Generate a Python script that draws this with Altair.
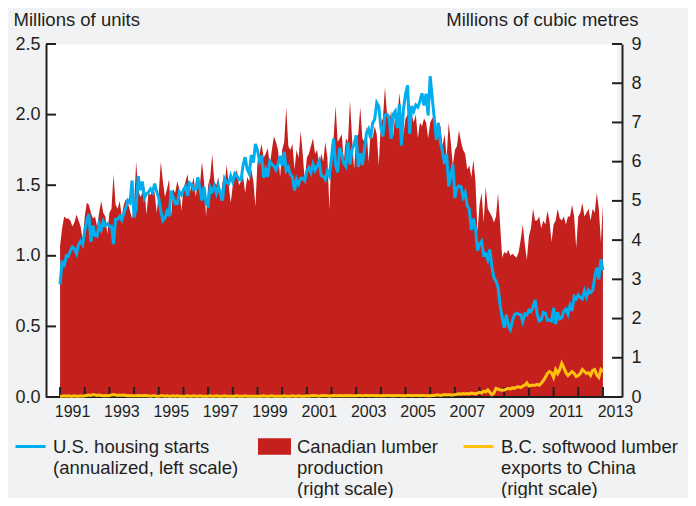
import altair as alt
import pandas as pd

# ---------------- data (monthly, Jan 1991 .. Jan 2013) ----------------
years = list(range(1991, 2014))
left_ticks = [0, 0.5, 1.0, 1.5, 2.0, 2.5]
right_ticks = list(range(0, 10))

# U.S. housing starts, annualized, millions of units (left scale)
housing_starts = [
    0.798, 0.965, 0.921, 1.001, 0.996, 1.036, 1.063, 1.049, 1.015, 1.079, 1.103, 1.079,
    1.176, 1.250, 1.297, 1.099, 1.214, 1.145, 1.139, 1.226, 1.186, 1.244, 1.214, 1.227,
    1.210, 1.210, 1.083, 1.258, 1.260, 1.280, 1.254, 1.300, 1.343, 1.392, 1.376, 1.533,
    1.272, 1.337, 1.564, 1.465, 1.526, 1.409, 1.439, 1.450, 1.474, 1.450, 1.511, 1.455,
    1.407, 1.316, 1.249, 1.267, 1.314, 1.281, 1.461, 1.416, 1.369, 1.369, 1.452, 1.431,
    1.467, 1.491, 1.424, 1.516, 1.504, 1.467, 1.472, 1.557, 1.475, 1.392, 1.489, 1.370,
    1.355, 1.486, 1.457, 1.492, 1.442, 1.494, 1.437, 1.390, 1.546, 1.520, 1.510, 1.566,
    1.525, 1.584, 1.567, 1.540, 1.536, 1.641, 1.698, 1.614, 1.582, 1.715, 1.660, 1.792,
    1.748, 1.670, 1.710, 1.553, 1.611, 1.559, 1.669, 1.648, 1.635, 1.608, 1.648, 1.708,
    1.636, 1.737, 1.604, 1.626, 1.575, 1.559, 1.463, 1.541, 1.507, 1.549, 1.551, 1.532,
    1.600, 1.625, 1.590, 1.649, 1.605, 1.636, 1.670, 1.567, 1.562, 1.540, 1.602, 1.568,
    1.698, 1.829, 1.642, 1.592, 1.764, 1.717, 1.655, 1.633, 1.804, 1.648, 1.753, 1.788,
    1.853, 1.629, 1.726, 1.643, 1.751, 1.867, 1.897, 1.833, 1.939, 1.967, 2.083, 2.057,
    1.911, 1.846, 1.998, 2.003, 1.981, 1.828, 2.002, 2.024, 1.905, 2.072, 1.782, 2.042,
    2.144, 2.207, 1.864, 2.061, 2.025, 2.068, 2.054, 2.095, 2.151, 2.065, 2.147, 1.994,
    2.273, 2.119, 1.969, 1.821, 1.942, 1.802, 1.737, 1.650, 1.720, 1.491, 1.570, 1.649,
    1.409, 1.480, 1.495, 1.490, 1.415, 1.448, 1.354, 1.330, 1.183, 1.264, 1.197, 1.037,
    1.084, 1.103, 1.005, 1.013, 0.973, 1.046, 0.923, 0.844, 0.820, 0.777, 0.652, 0.560,
    0.490, 0.582, 0.505, 0.478, 0.540, 0.585, 0.594, 0.586, 0.585, 0.534, 0.588, 0.581,
    0.614, 0.604, 0.636, 0.687, 0.588, 0.539, 0.546, 0.599, 0.594, 0.543, 0.545, 0.539,
    0.630, 0.517, 0.600, 0.554, 0.561, 0.608, 0.623, 0.585, 0.650, 0.610, 0.711, 0.694,
    0.723, 0.704, 0.695, 0.753, 0.708, 0.757, 0.740, 0.754, 0.847, 0.915, 0.833, 0.976,
    0.898,
]

# Canadian lumber production, millions of cubic metres (right scale)
lumber_production = [
    3.85, 4.30, 4.60, 4.55, 4.55, 4.50, 4.35, 4.45, 4.65, 4.50, 4.35, 4.00,
    4.60, 4.95, 4.90, 4.70, 4.55, 4.60, 4.35, 4.70, 5.00, 4.70, 4.60, 4.15,
    4.70, 4.80, 5.68, 4.90, 4.80, 5.00, 4.60, 4.90, 5.05, 4.95, 4.75, 4.55,
    4.90, 6.00, 5.30, 5.10, 5.20, 5.37, 4.65, 5.20, 5.15, 5.35, 5.20, 4.70,
    5.20, 6.00, 5.50, 5.10, 5.30, 5.55, 4.60, 5.30, 5.20, 5.50, 5.30, 4.75,
    5.30, 5.50, 5.68, 5.20, 5.40, 5.60, 5.10, 5.50, 5.40, 6.00, 5.50, 4.60,
    5.40, 5.60, 6.19, 5.50, 5.40, 5.60, 5.00, 5.50, 5.40, 5.93, 5.40, 4.95,
    5.40, 5.60, 5.80, 5.40, 5.50, 5.65, 5.20, 5.60, 5.50, 5.80, 5.50, 4.86,
    6.00, 6.20, 6.45, 6.10, 6.20, 6.35, 5.90, 6.30, 6.65, 6.50, 6.30, 5.60,
    6.30, 6.50, 7.39, 6.40, 6.30, 6.45, 5.80, 6.30, 6.10, 6.78, 6.20, 5.50,
    6.10, 6.20, 6.40, 6.60, 6.20, 6.30, 5.90, 6.20, 6.00, 6.50, 6.10, 4.78,
    6.40, 6.60, 7.42, 6.50, 6.60, 6.70, 6.00, 6.60, 6.50, 7.55, 6.60, 5.80,
    6.60, 6.70, 7.39, 6.60, 6.50, 6.90, 6.00, 6.70, 6.60, 6.90, 6.70, 5.90,
    7.00, 7.10, 7.90, 7.20, 7.00, 7.30, 6.65, 7.20, 7.10, 7.75, 7.20, 6.70,
    7.10, 7.20, 7.50, 7.20, 7.00, 7.20, 6.60, 7.00, 6.90, 7.10, 7.00, 6.60,
    7.00, 7.10, 7.16, 6.80, 6.90, 6.90, 6.40, 6.70, 6.10, 7.00, 6.50, 5.90,
    6.30, 6.40, 6.80, 6.50, 6.30, 6.20, 5.80, 5.90, 5.60, 6.05, 5.50, 4.20,
    4.90, 5.20, 4.45, 5.36, 4.80, 4.70, 4.60, 4.45, 4.60, 5.20, 4.40, 3.55,
    3.70, 3.65, 3.75, 3.60, 3.65, 3.60, 3.55, 3.70, 4.00, 4.40, 3.90, 3.50,
    4.10, 4.30, 4.80, 4.50, 4.50, 4.60, 4.30, 4.50, 4.40, 4.75, 4.50, 3.95,
    4.40, 4.50, 4.80, 4.55, 4.50, 4.60, 4.40, 4.60, 4.60, 4.90, 4.60, 3.80,
    4.60, 4.70, 4.95, 4.60, 4.70, 4.80, 4.50, 4.80, 4.70, 5.20, 4.80, 3.95,
    4.90,
]

# B.C. softwood lumber exports to China, millions of cubic metres (right scale)
bc_exports_china = [
    0.02, 0.02, 0.03, 0.02, 0.03, 0.02, 0.02, 0.03, 0.02, 0.02, 0.03, 0.02,
    0.03, 0.04, 0.05, 0.04, 0.06, 0.05, 0.04, 0.05, 0.04, 0.03, 0.04, 0.03,
    0.04, 0.05, 0.06, 0.05, 0.04, 0.05, 0.04, 0.05, 0.04, 0.03, 0.04, 0.03,
    0.03, 0.03, 0.04, 0.03, 0.03, 0.04, 0.03, 0.03, 0.02, 0.03, 0.03, 0.02,
    0.02, 0.03, 0.03, 0.02, 0.03, 0.02, 0.02, 0.03, 0.02, 0.03, 0.02, 0.02,
    0.02, 0.02, 0.03, 0.02, 0.02, 0.03, 0.02, 0.02, 0.03, 0.02, 0.02, 0.02,
    0.02, 0.03, 0.02, 0.02, 0.03, 0.02, 0.02, 0.02, 0.03, 0.02, 0.02, 0.02,
    0.02, 0.02, 0.03, 0.02, 0.02, 0.02, 0.03, 0.02, 0.02, 0.02, 0.02, 0.02,
    0.02, 0.02, 0.02, 0.03, 0.02, 0.02, 0.02, 0.03, 0.02, 0.02, 0.02, 0.02,
    0.02, 0.03, 0.02, 0.02, 0.02, 0.03, 0.02, 0.02, 0.03, 0.02, 0.02, 0.02,
    0.03, 0.02, 0.03, 0.04, 0.03, 0.03, 0.02, 0.03, 0.04, 0.03, 0.03, 0.02,
    0.03, 0.04, 0.03, 0.03, 0.04, 0.03, 0.03, 0.04, 0.03, 0.04, 0.03, 0.03,
    0.03, 0.04, 0.04, 0.03, 0.04, 0.04, 0.03, 0.04, 0.04, 0.03, 0.04, 0.03,
    0.03, 0.04, 0.03, 0.04, 0.04, 0.03, 0.04, 0.03, 0.04, 0.04, 0.03, 0.03,
    0.03, 0.04, 0.04, 0.03, 0.04, 0.04, 0.04, 0.03, 0.04, 0.04, 0.03, 0.04,
    0.03, 0.04, 0.04, 0.05, 0.05, 0.04, 0.05, 0.06, 0.05, 0.06, 0.05, 0.05,
    0.06, 0.07, 0.08, 0.07, 0.09, 0.08, 0.09, 0.08, 0.10, 0.09, 0.08, 0.10,
    0.12, 0.10, 0.15, 0.13, 0.18, 0.12, 0.06, 0.10, 0.22, 0.20, 0.18, 0.17,
    0.18, 0.20, 0.22, 0.20, 0.24, 0.22, 0.25, 0.26, 0.24, 0.28, 0.30, 0.36,
    0.28, 0.30, 0.30, 0.30, 0.32, 0.30, 0.35, 0.42, 0.50, 0.60, 0.65, 0.62,
    0.50, 0.70, 0.60, 0.70, 0.86, 0.75, 0.62, 0.55, 0.60, 0.65, 0.60, 0.52,
    0.55, 0.60, 0.70, 0.65, 0.60, 0.62, 0.55, 0.68, 0.70, 0.56, 0.50, 0.70,
    0.65,
]

names = [
    "U.S. housing starts|(annualized, left scale)",
    "Canadian lumber|production|(right scale)",
    "B.C. softwood lumber|exports to China|(right scale)",
]
colors = ["#00aeef", "#c4201e", "#ffc20e"]

# ---------------- tables ----------------
t = [1991 + i / 12 for i in range(len(housing_starts))]
df_blue = pd.DataFrame({"t": t, "v": housing_starts, "s": names[0]})
df_red = pd.DataFrame({"t": t, "v": lumber_production, "s": names[1]})
df_yel = pd.DataFrame({"t": t, "v": bc_exports_china, "s": names[2]})
df_xt = pd.DataFrame({"t": years})
df_lt = pd.DataFrame({"v": left_ticks})
df_rt = pd.DataFrame({"v": right_ticks})
df_base = pd.DataFrame({"v": [0]})

TXT = "#231f20"
FONT = "Liberation Sans"
W, H = 571, 353

xscale = alt.Scale(domain=[1990.43, 2013.57], nice=False, zero=False)
xaxis = alt.Axis(
    values=years,
    labelExpr="datum.value % 2 == 1 ? '' + datum.value : ''",
    labelOffset=12, labelFlush=False, labelOverlap=False,
    labelFontSize=16, labelColor=TXT, labelPadding=6,
    ticks=False, domain=False, grid=False, title=None,
)
X = alt.X("t:Q", scale=xscale, axis=xaxis)
L_SCALE = alt.Scale(domain=[0, 2.5], nice=False)
R_SCALE = alt.Scale(domain=[0, 9], nice=False)

LEG_Y = 386
leg_common = dict(
    title=None, orient="none", direction="vertical", padding=0,
    labelExpr="split(datum.label, '|')", labelFontSize=18.5, labelColor=TXT,
    labelOffset=6, labelLimit=400,
)

right_axis = alt.Axis(
    orient="right", values=right_ticks, format="d", offset=5,
    labelFontSize=18, labelColor=TXT, labelPadding=9, ticks=False,
    domainColor=TXT, domainWidth=2, grid=False, zindex=1,
    title="Millions of cubic metres", titleAngle=0, titleAlign="right",
    titleBaseline="alphabetic", titleX=16, titleY=-19,
    titleFontSize=18.5, titleFontWeight="normal", titleColor=TXT,
)
left_axis = alt.Axis(
    orient="left", values=left_ticks, format=".1f",
    labelFontSize=18, labelColor=TXT, labelPadding=6, ticks=False,
    domainColor=TXT, domainWidth=2, grid=False, zindex=1,
    title="Millions of units", titleAngle=0, titleAlign="left",
    titleBaseline="alphabetic", titleX=-33, titleY=-19,
    titleFontSize=18.5, titleFontWeight="normal", titleColor=TXT,
)

area = alt.Chart(df_red).mark_area(interpolate="linear").encode(
    x=X,
    y=alt.Y("v:Q", scale=R_SCALE, axis=right_axis),
    fill=alt.Fill("s:N", scale=alt.Scale(domain=[names[1]], range=[colors[1]]),
                  legend=alt.Legend(legendX=212, legendY=LEG_Y,
                                    symbolType="M-1,-0.5H1V0.5H-1Z", symbolSize=1089,
                                    symbolStrokeWidth=0, **leg_common)),
)

blue = alt.Chart(df_blue).mark_line(strokeWidth=3, interpolate="linear").encode(
    x=X,
    y=alt.Y("v:Q", scale=L_SCALE, axis=left_axis),
    color=alt.Color("s:N", scale=alt.Scale(domain=[names[0]], range=[colors[0]]),
                    legend=alt.Legend(legendX=-32, legendY=LEG_Y, symbolType="stroke",
                                      symbolSize=900, symbolStrokeWidth=3, **leg_common)),
)

yellow = alt.Chart(df_yel).mark_line(strokeWidth=3, interpolate="linear").encode(
    x=X,
    y=alt.Y("v:Q", scale=R_SCALE, axis=None),
    stroke=alt.Stroke("s:N", scale=alt.Scale(domain=[names[2]], range=[colors[2]]),
                      legend=alt.Legend(legendX=416, legendY=LEG_Y, symbolType="stroke",
                                        symbolSize=900, symbolStrokeWidth=3, **leg_common)),
)

# inward-pointing tick marks and the baseline running to the right axis
xticks = alt.Chart(df_xt).mark_rule(color=TXT, strokeWidth=2).encode(
    x=X, y=alt.value(H), y2=alt.value(H - 10)
)
lticks = alt.Chart(df_lt).mark_rule(color=TXT, strokeWidth=2).encode(
    y=alt.Y("v:Q", scale=L_SCALE, axis=None), x=alt.value(0), x2=alt.value(10)
)
rticks = alt.Chart(df_rt).mark_rule(color=TXT, strokeWidth=2).encode(
    y=alt.Y("v:Q", scale=R_SCALE, axis=None), x=alt.value(W + 5), x2=alt.value(W - 5)
)
baseline = alt.Chart(df_base).mark_rule(color=TXT, strokeWidth=2).encode(
    y=alt.Y("v:Q", scale=R_SCALE, axis=None), x=alt.value(0), x2=alt.value(W + 5)
)

chart = (
    alt.layer(area, xticks, lticks, rticks, baseline, blue, yellow)
    .resolve_scale(y="independent")
    .properties(
        width=W, height=H,
        autosize=alt.AutoSizeParams(type="none"),
        padding={"left": 38, "top": 36, "right": 71, "bottom": 101},
        background="#f1f2f4",
    )
    .configure(font=FONT, style={"guide-label": {"lineHeight": 21}})
    .configure_view(fill="white", stroke="transparent")
)

chart.save("out.html", embed_options={"renderer": "svg", "actions": False})
